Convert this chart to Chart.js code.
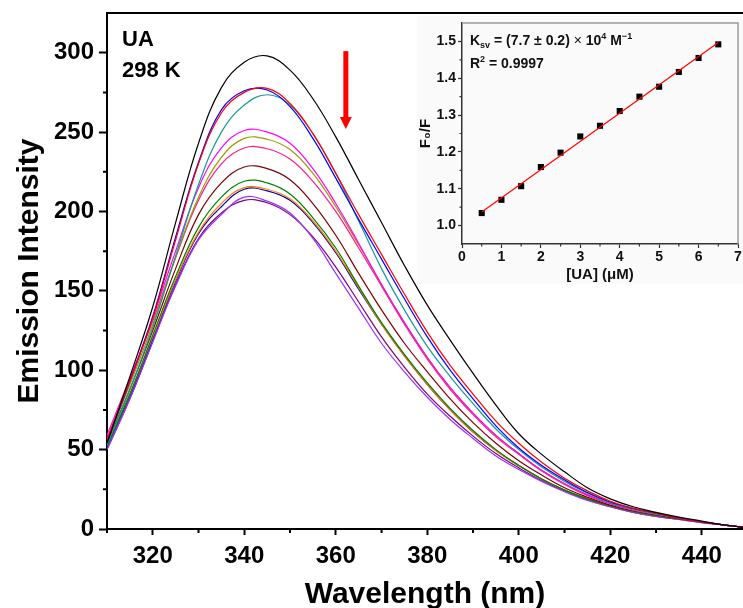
<!DOCTYPE html>
<html><head><meta charset="utf-8">
<script src="https://cdn.jsdelivr.net/npm/chart.js@4.4.1/dist/chart.umd.min.js"></script>
<style>
html,body{margin:0;padding:0;background:#fff;overflow:hidden;}
#wrap{position:relative;width:743px;height:608px;background:#fff;}
#main{position:absolute;left:0;top:0;}
#inset{position:absolute;left:417px;top:16px;background:#fafafa;}
</style></head><body>
<div id="wrap">
<canvas id="main" width="743" height="608"></canvas>
<canvas id="inset" width="326" height="268"></canvas>
</div>
<script>
// ---------- main spectra data ----------
const wavelengths = [310,315,320,325,330,335,340,345,350,355,360,365,370,375,380,385,390,395,400,405,410,415,420,425,430,435,440,445,450];
const curveBlack   = [54,96,140,193,243,278,294,298,289,271,247,220,193,166,141,119,98,78,60,47,36,26,19,14,10.5,7.5,5,2.5,0.8];
const curveRed     = [56,93,133,182,230,262,275,277.5,268,249,224,198,173,148,124,103,85,68,54,42,32,24,17.5,13,10,7,4.5,2.5,0.8];
const curveBlue    = [55,93,134,184,231,264,276,276.5,266,246,221,195,170,145,121,100,82,65,51,40,31,23,17,13,10,7,4.5,2.5,0.8];
const curveTeal    = [53,88,127,172,217,250,267,273.5,267,249,224,194,164,138,115,96,79,63,50,39,30,22.5,16.5,12.5,9.5,7,4.5,2.5,0.8];
const curveMagenta = [57,94,133,175,215,240,251,250,243,227,205,180,154,130,108,89,73,59,47.5,37,28.5,21.5,16,12,9.5,7,4.5,2.5,0.8];
const curveOlive   = [55,91,129,171,209,234,246,245.5,239,224,203,179,154,130,108,89,73,59,47.5,37,28.5,21.5,16,12,9.5,7,4.5,2.5,0.8];
const curvePink    = [59,95,131,171,207,230,240,239.5,233,219,200,177,153,129,107,88,72,58,47,36.5,28,21,16,12,9.5,7,4.5,2.5,0.8];
const curveBrown   = [54,88,125,164,198,218,228,227,220,205,185,161,138,117,99,82,67,54,43,34,26,20,15,11.5,9,6.5,4.5,2.5,0.8];
const curveGreen   = [52,85,122,159,190,209,219,218,211,196,177,153,130,110,92,76,62,50,40,31.5,24.5,19,14.5,11,8.5,6.5,4.5,2.5,0.8];
const curveOrange  = [53,85,121,157,187,205,215,214,208,194,175,152,129,109,91,75,61,49.5,40,31.5,24.5,19,14.5,11,8.5,6.5,4.5,2.5,0.8];
const curveDBlue   = [52,84,120,156,186,203,214,213,207,193,174,151,129,109,91,75,61,49.5,40,31.5,24.5,19,14.5,11,8.5,6.5,4.5,2.5,0.8];
const curveViolet  = [50,82,118,153,182,198,209,206.5,199,183,161,139,117,99,83,69,57,46,37.5,30,23.5,18,14,10.5,8,6,4,2.5,0.8];
const curvePurple  = [50,82,118,154,183,199,207,205.5,198,184,165,143,121,102,85,71,58.5,47.5,38.5,30.5,24,18.5,14,10.5,8,6,4,2.5,0.8];
const xTickLabels = [320,340,360,380,400,420,440];
const xMinorTicks = [310,330,350,370,390,410,430,450];
const yTickLabels = [0,50,100,150,200,250,300];
const yMinorTicks = [25,75,125,175,225,275];

// ---------- inset data ----------
const concUA  = [0.5,1,1.5,2,2.5,3,3.5,4,4.5,5,5.5,6,6.5];
const f0OverF = [1.034,1.070,1.107,1.159,1.198,1.242,1.271,1.311,1.350,1.377,1.417,1.455,1.492];
const fitX = [0.5,6.5];
const fitY = [1.037,1.497];
const insetXTicks = [0,1,2,3,4,5,6,7];
const insetXMinor = [0.5,1.5,2.5,3.5,4.5,5.5,6.5];
const insetYTicks = [1.0,1.1,1.2,1.3,1.4,1.5];
const insetYMinor = [1.05,1.15,1.25,1.35,1.45];

const curves = [curveBlack,curveRed,curveBlue,curveTeal,curveMagenta,curveOlive,curvePink,curveBrown,curveGreen,curveOrange,curveDBlue,curveViolet,curvePurple];
const colors = ['#000000','#ff0000','#0000ff','#199999','#ff00ff','#999900','#ff1a8c','#800000','#008000','#ff8000','#0000b0','#9933ff','#800080'];

const FONT = "'Liberation Sans', Arial, sans-serif";

const mainDecor = {
  id:'mainDecor',
  afterDraw(chart){
    const {ctx, chartArea:a, scales:{x,y}} = chart;
    ctx.save();
    ctx.strokeStyle='#000'; ctx.lineWidth=2;
    // top border
    ctx.beginPath(); ctx.moveTo(a.left-1,a.top); ctx.lineTo(a.right+2,a.top); ctx.stroke();
    // minor ticks
    ctx.beginPath();
    xMinorTicks.forEach(v=>{const px=x.getPixelForValue(v); if(px<=a.right+1){ctx.moveTo(px,a.bottom); ctx.lineTo(px,a.bottom+4);}});
    yMinorTicks.forEach(v=>{const py=y.getPixelForValue(v); ctx.moveTo(a.left,py); ctx.lineTo(a.left-4,py);});
    ctx.stroke();
    // labels
    ctx.fillStyle='#000';
    ctx.font="bold 22px "+FONT;
    ctx.textBaseline='alphabetic'; ctx.textAlign='left';
    ctx.fillText('UA', a.left+15, a.top+33);
    ctx.fillText('298 K', a.left+15, a.top+64);
    // red arrow
    const ax = x.getPixelForValue(362.2);
    const yTop = y.getPixelForValue(301), yTip = y.getPixelForValue(252);
    ctx.strokeStyle='#ff0000'; ctx.fillStyle='#ff0000'; ctx.lineWidth=5;
    ctx.beginPath(); ctx.moveTo(ax,yTop); ctx.lineTo(ax,yTip-10); ctx.stroke();
    ctx.beginPath(); ctx.moveTo(ax-6,yTip-12); ctx.lineTo(ax+6,yTip-12); ctx.lineTo(ax,yTip); ctx.closePath(); ctx.fill();
    ctx.restore();
  }
};

new Chart(document.getElementById('main'), {
  type:'line',
  data:{ datasets: curves.map((c,i)=>({
    data: wavelengths.map((w,j)=>({x:w,y:c[j]})),
    borderColor: colors[i], borderWidth:1.2, pointRadius:0, fill:false,
    tension:0.4
  }))},
  options:{
    responsive:false, animation:false, devicePixelRatio:1,
    layout:{padding:{top:13,right:0,left:0,bottom:0}},
    plugins:{legend:{display:false}, tooltip:{enabled:false}},
    scales:{
      x:{type:'linear', min:310, max:449,
        afterBuildTicks:s=>{s.ticks=xTickLabels.map(v=>({value:v}));},
        afterFit:s=>{s.height=79;},
        grid:{drawOnChartArea:false, tickLength:6, tickWidth:2, tickColor:'#000'},
        border:{color:'#000', width:2},
        ticks:{font:{family:FONT,size:24,weight:'bold'}, color:'#000', padding:7, maxRotation:0, autoSkip:false},
        title:{display:true, text:'Wavelength (nm)', color:'#000', font:{family:FONT,size:30,weight:'bold'}, padding:{top:0,bottom:-5}}
      },
      y:{type:'linear', min:0, max:325,
        afterBuildTicks:s=>{s.ticks=yTickLabels.map(v=>({value:v}));},
        afterFit:s=>{s.width=107;},
        grid:{drawOnChartArea:false, tickLength:8, tickWidth:2, tickColor:'#000'},
        border:{color:'#000', width:2},
        ticks:{font:{family:FONT,size:24,weight:'bold',lineHeight:0.6}, color:'#000', padding:5},
        title:{display:true, text:'Emission Intensity', color:'#000', font:{family:FONT,size:30,weight:'bold'}, padding:{top:12,bottom:0}}
      }
    }
  },
  plugins:[mainDecor]
});

const insetDecor = {
  id:'insetDecor',
  afterDraw(chart){
    const {ctx, chartArea:a, scales:{x,y}} = chart;
    ctx.save();
    ctx.strokeStyle='#9a9a9a'; ctx.lineWidth=1.5;
    ctx.beginPath(); ctx.moveTo(a.left,a.top); ctx.lineTo(a.right,a.top); ctx.lineTo(a.right,a.bottom); ctx.stroke();
    ctx.strokeStyle='#333'; ctx.lineWidth=1.2;
    ctx.beginPath();
    insetXMinor.forEach(v=>{const px=x.getPixelForValue(v); ctx.moveTo(px,a.bottom); ctx.lineTo(px,a.bottom+2.5);});
    insetYMinor.forEach(v=>{const py=y.getPixelForValue(v); ctx.moveTo(a.left,py); ctx.lineTo(a.left-2.5,py);});
    ctx.stroke();
    ctx.fillStyle='#111'; ctx.textBaseline='alphabetic'; ctx.textAlign='left';
    let px = a.left+8, py = 45-16;
    const part=(t,size,dy)=>{ctx.font='bold '+size+'px '+FONT; ctx.fillText(t,px,py+dy); px+=ctx.measureText(t).width;};
    part('K',14,0); part('sv',9,3); part(' = (7.7 \u00b1 0.2) ',14,0);
    ctx.font='14px '+FONT; ctx.fillText('\u00d7',px,py); px+=ctx.measureText('\u00d7').width;
    part(' 10',14,0); part('4',9,-6); part(' M',14,0); part('\u22121',9,-6);
    px = a.left+8; py = 67.7-16;
    part('R',14,0); part('2',9,-6); part(' = 0.9997',14,0);
    ctx.restore();
  }
};

new Chart(document.getElementById('inset'), {
  type:'scatter',
  data:{ datasets:[
    {type:'line', data: fitX.map((v,i)=>({x:v,y:fitY[i]})), borderColor:'#ff0000', borderWidth:1.2, pointRadius:0, fill:false},
    {type:'scatter', data: concUA.map((v,i)=>({x:v,y:f0OverF[i]})), pointStyle:'rect', pointRadius:4.3, backgroundColor:'#000', borderColor:'#000', borderWidth:0}
  ]},
  options:{
    responsive:false, animation:false, devicePixelRatio:1,
    layout:{padding:{top:7,right:5,left:0,bottom:0}},
    plugins:{legend:{display:false}, tooltip:{enabled:false}},
    scales:{
      x:{type:'linear', min:0, max:7,
        afterBuildTicks:s=>{s.ticks=insetXTicks.map(v=>({value:v}));},
        afterFit:s=>{s.height=40;},
        grid:{drawOnChartArea:false, tickLength:4, tickWidth:1.2, tickColor:'#333'},
        border:{color:'#333', width:1.5},
        ticks:{font:{family:FONT,size:14,weight:'bold'}, color:'#111', padding:1, maxRotation:0, autoSkip:false},
        title:{display:true, text:'[UA] (\u03bcM)', color:'#111', font:{family:FONT,size:15,weight:'bold'}, padding:{top:0,bottom:0}}
      },
      y:{type:'linear', min:0.95, max:1.55,
        afterBuildTicks:s=>{s.ticks=insetYTicks.map(v=>({value:v}));},
        afterFit:s=>{s.width=45;},
        grid:{drawOnChartArea:false, tickLength:4, tickWidth:1.2, tickColor:'#333'},
        border:{color:'#333', width:1.5},
        ticks:{font:{family:FONT,size:14,weight:'bold',lineHeight:0.6}, color:'#111', padding:2, callback:v=>Number(v).toFixed(1)},
        title:{display:true, text:'F\u2080/F', color:'#111', font:{family:FONT,size:15,weight:'bold'}, padding:{top:0,bottom:0}}
      }
    }
  },
  plugins:[insetDecor]
});
</script>
</body></html>
